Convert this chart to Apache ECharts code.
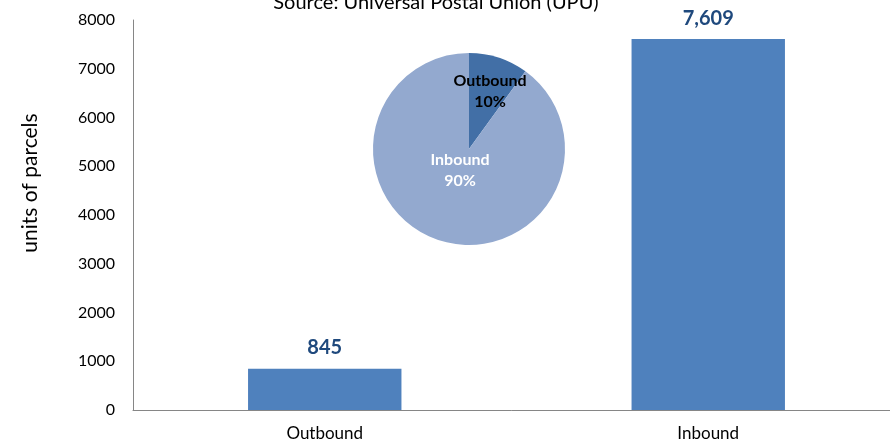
<!DOCTYPE html>
<html lang="en">
<head>
    <meta charset="UTF-8">
    <title>Parcels: Outbound vs Inbound</title>
    <script src="https://cdn.jsdelivr.net/npm/echarts@6/dist/echarts.min.js"></script>
    <style>
        html, body { margin: 0; padding: 0; background: #fff; }
        #main { width: 890px; height: 442px; }
    </style>
</head>
<body>
    <div id="main"></div>
    <script>
        var categories = ['Outbound', 'Inbound'];
        var parcels = [845, 7609];
        var shareNames = ['Outbound', 'Inbound'];
        var shares = [10, 90];
        var yTicks = [0, 1000, 2000, 3000, 4000, 5000, 6000, 7000, 8000];

        var font = 'Lato, "Open Sans", sans-serif';
        var chart = echarts.init(document.getElementById('main'));

        var option = {
            backgroundColor: '#fff',
            animation: false,
            title: {
                text: 'Source: Universal Postal Union (UPU)',
                left: 431,
                textAlign: 'center',
                top: -12,
                textStyle: { fontFamily: font, fontSize: 20, fontWeight: 'normal', color: '#000' }
            },
            graphic: [{
                type: 'text',
                x: 30,
                y: 183,
                rotation: Math.PI / 2,
                style: {
                    text: 'units of parcels',
                    font: '21px ' + font,
                    fill: '#000',
                    align: 'center',
                    verticalAlign: 'middle'
                }
            }],
            grid: { left: 133, width: 767, top: 20, bottom: 32, containLabel: false, outerBoundsMode: 'none' },
            xAxis: {
                type: 'category',
                data: categories,
                axisLine: { lineStyle: { color: '#868686' } },
                axisTick: { show: false },
                axisLabel: { fontFamily: font, fontSize: 17, color: '#000', margin: 15 }
            },
            yAxis: {
                type: 'value',
                min: yTicks[0],
                max: yTicks[yTicks.length - 1],
                interval: 1000,
                axisLine: { show: true, lineStyle: { color: '#868686' } },
                axisTick: { show: false },
                splitLine: { show: false },
                axisLabel: {
                    fontFamily: font, fontSize: 16, color: '#000', margin: 18,
                    formatter: function (v) { return String(v); }
                }
            },
            series: [{
                type: 'bar',
                data: parcels,
                barWidth: '40%',
                itemStyle: { color: '#4f81bd' },
                label: {
                    show: true,
                    position: 'top',
                    distance: 11,
                    fontFamily: font,
                    fontSize: 20,
                    fontWeight: 'bold',
                    color: '#1f497d',
                    formatter: function (p) { return p.value.toLocaleString('en-US'); }
                }
            }, {
                type: 'pie',
                center: [469, 149],
                radius: 96,
                startAngle: 90,
                clockwise: true,
                data: shareNames.map(function (n, i) {
                    return { name: n, value: shares[i], label: { color: i === 0 ? '#000' : '#fff' } };
                }),
                color: ['#426fa6', '#93a9cf'],
                itemStyle: { borderWidth: 0 },
                emphasis: { disabled: true },
                labelLine: { show: false },
                label: {
                    show: true,
                    position: 'inside',
                    fontFamily: font,
                    fontSize: 16,
                    fontWeight: 'bold',
                    lineHeight: 21,
                    formatter: '{b}\n{d}%'
                },
                labelLayout: function (p) {
                    if (p.dataIndex === 0) {
                        return { x: 490, y: 91, align: 'center', verticalAlign: 'middle' };
                    }
                    return { x: 460, y: 170, align: 'center', verticalAlign: 'middle' };
                }
            }]
        };

        chart.setOption(option);
    </script>
</body>
</html>
